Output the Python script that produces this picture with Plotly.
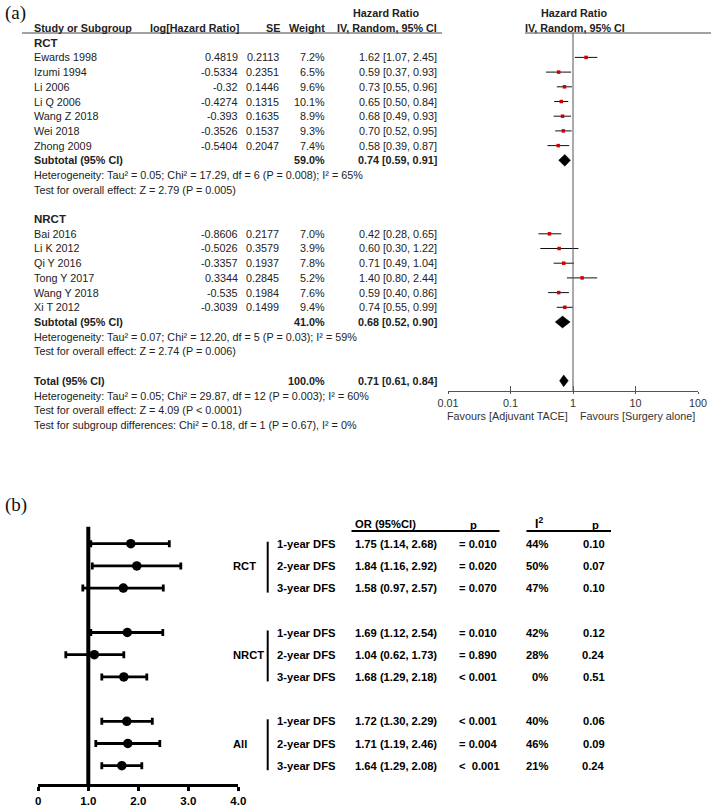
import plotly.graph_objects as go

W, H = 711, 807
FONT = "Liberation Sans, Arial, sans-serif"
SERIF = "Liberation Serif, Times New Roman, serif"
TXT = "#222222"

# ---------------- Panel (a) data ----------------
rct_names = ["Ewards 1998", "Izumi 1994", "Li 2006", "Li Q 2006", "Wang Z 2018", "Wei 2018", "Zhong 2009"]
rct_loghr = ["0.4819", "-0.5334", "-0.32", "-0.4274", "-0.393", "-0.3526", "-0.5404"]
rct_se = ["0.2113", "0.2351", "0.1446", "0.1315", "0.1635", "0.1537", "0.2047"]
rct_weight = ["7.2%", "6.5%", "9.6%", "10.1%", "8.9%", "9.3%", "7.4%"]
rct_hr = [1.62, 0.59, 0.73, 0.65, 0.68, 0.70, 0.58]
rct_lo = [1.07, 0.37, 0.55, 0.50, 0.49, 0.52, 0.39]
rct_hi = [2.45, 0.93, 0.96, 0.84, 0.93, 0.95, 0.87]
rct_sub = (0.74, 0.59, 0.91)
rct_sub_weight = "59.0%"
rct_het = "Heterogeneity: Tau² = 0.05; Chi² = 17.29, df = 6 (P = 0.008); I² = 65%"
rct_test = "Test for overall effect: Z = 2.79 (P = 0.005)"

nrct_names = ["Bai 2016", "Li K 2012", "Qi Y 2016", "Tong Y 2017", "Wang Y 2018", "Xi T 2012"]
nrct_loghr = ["-0.8606", "-0.5026", "-0.3357", "0.3344", "-0.535", "-0.3039"]
nrct_se = ["0.2177", "0.3579", "0.1937", "0.2845", "0.1984", "0.1499"]
nrct_weight = ["7.0%", "3.9%", "7.8%", "5.2%", "7.6%", "9.4%"]
nrct_hr = [0.42, 0.60, 0.71, 1.40, 0.59, 0.74]
nrct_lo = [0.28, 0.30, 0.49, 0.80, 0.40, 0.55]
nrct_hi = [0.65, 1.22, 1.04, 2.44, 0.86, 0.99]
nrct_sub = (0.68, 0.52, 0.90)
nrct_sub_weight = "41.0%"
nrct_het = "Heterogeneity: Tau² = 0.07; Chi² = 12.20, df = 5 (P = 0.03); I² = 59%"
nrct_test = "Test for overall effect: Z = 2.74 (P = 0.006)"

total = (0.71, 0.61, 0.84)
total_weight = "100.0%"
total_het = "Heterogeneity: Tau² = 0.05; Chi² = 29.87, df = 12 (P = 0.003); I² = 60%"
total_test = "Test for overall effect: Z = 4.09 (P < 0.0001)"
subgroup_test = "Test for subgroup differences: Chi² = 0.18, df = 1 (P = 0.67), I² = 0%"

a_ticks = [0.01, 0.1, 1, 10, 100]
a_ticklabels = ["0.01", "0.1", "1", "10", "100"]
favours_left = "Favours [Adjuvant TACE]"
favours_right = "Favours [Surgery alone]"

# ---------------- Panel (b) data ----------------
b_groups = ["RCT", "NRCT", "All"]
b_outcomes = ["1-year DFS", "2-year DFS", "3-year DFS"]
# plotted marks (as drawn in the figure)
b_est = [1.85, 1.97, 1.70, 1.78, 1.12, 1.71, 1.77, 1.79, 1.67]
b_lo = [1.05, 1.08, 0.89, 1.05, 0.55, 1.27, 1.27, 1.15, 1.27]
b_hi = [2.62, 2.85, 2.50, 2.49, 1.71, 2.17, 2.28, 2.43, 2.07]
# table texts
b_or = ["1.75 (1.14, 2.68)", "1.84 (1.16, 2.92)", "1.58 (0.97, 2.57)",
        "1.69 (1.12, 2.54)", "1.04 (0.62, 1.73)", "1.68 (1.29, 2.18)",
        "1.72 (1.30, 2.29)", "1.71 (1.19, 2.46)", "1.64 (1.29, 2.08)"]
b_p = ["= 0.010", "= 0.020", "= 0.070", "= 0.010", "= 0.890", "< 0.001",
       "< 0.001", "= 0.004", "<  0.001"]
b_i2 = ["44%", "50%", "47%", "42%", "28%", "0%", "40%", "46%", "21%"]
b_phet = ["0.10", "0.07", "0.10", "0.12", "0.24", "0.51", "0.06", "0.09", "0.24"]
b_ticks = [0, 1, 2, 3, 4]
b_ticklabels = ["0", "1.0", "2.0", "3.0", "4.0"]

# ---------------- geometry helpers ----------------
def PX(x):
    return x / W

def PY(y):
    return 1 - y / H

A_Y0, A_DY = 28.0, 14.7          # panel (a) row pixel model
A_AXIS_Y = 391.0
def ya(i):
    return A_Y0 + A_DY * i

B_Y0, B_DY = 543.7, 22.2         # panel (b) row pixel model
B_TOP, B_AXIS_Y = 526.7, 784.0
def yb(j):
    return B_Y0 + B_DY * j

rct_rows = list(range(2, 2 + len(rct_names)))
rct_sub_row = 9
nrct_rows = list(range(14, 14 + len(nrct_names)))
nrct_sub_row = 20
total_row = 24
b_rows = [0, 1, 2, 4, 5, 6, 8, 9, 10]

fig = go.Figure()
ann = []
shapes = []

def text(x, y, s, anchor="left", size=10.8, bold=False, color=TXT, family=FONT):
    ann.append(dict(x=PX(x), y=PY(y), xref="paper", yref="paper", text=("<b>%s</b>" % s) if bold else s,
                    showarrow=False, xanchor=anchor, yanchor="middle",
                    font=dict(family=family, size=size, color=color)))

# ---------------- Panel (a) table text ----------------
text(3, 13, "(a)", size=19, family=SERIF, color="#111")
text(386, ya(-1), "Hazard Ratio", anchor="center", bold=True)
text(574, ya(-1), "Hazard Ratio", anchor="center", bold=True)
text(32, ya(0), "Study or Subgroup", bold=True)
text(241, ya(0), "log[Hazard Ratio]", anchor="right", bold=True)
text(282, ya(0), "SE", anchor="right", bold=True)
text(327, ya(0), "Weight", anchor="right", bold=True)
text(387, ya(0), "IV, Random, 95% CI", anchor="center", bold=True)
text(575, ya(0), "IV, Random, 95% CI", anchor="center", bold=True)
shapes.append(dict(type="line", xref="paper", yref="paper", x0=PX(22), x1=PX(442), y0=PY(33), y1=PY(33),
                   line=dict(color="#444", width=1)))
shapes.append(dict(type="line", xref="paper", yref="paper", x0=PX(525), x1=PX(711), y0=PY(33), y1=PY(33),
                   line=dict(color="#444", width=1)))

def ci_text(e, l, h):
    return "%.2f [%.2f, %.2f]" % (e, l, h)

def block(title, title_row, names, loghr, se, wt, hr, lo, hi, rows, sub, sub_w, sub_row, het, test):
    text(32, ya(title_row), title, bold=True, size=11.5)
    for k, r in enumerate(rows):
        text(32, ya(r), names[k])
        text(239.5, ya(r), loghr[k], anchor="right")
        text(281, ya(r), se[k], anchor="right")
        text(327, ya(r), wt[k], anchor="right")
        text(439, ya(r), ci_text(hr[k], lo[k], hi[k]), anchor="right")
    text(32, ya(sub_row), "Subtotal (95% CI)", bold=True)
    text(327, ya(sub_row), sub_w, anchor="right", bold=True)
    text(439, ya(sub_row), ci_text(*sub), anchor="right", bold=True)
    text(32, ya(sub_row + 1), het)
    text(32, ya(sub_row + 2), test)

block("RCT", 1, rct_names, rct_loghr, rct_se, rct_weight, rct_hr, rct_lo, rct_hi, rct_rows,
      rct_sub, rct_sub_weight, rct_sub_row, rct_het, rct_test)
block("NRCT", 13, nrct_names, nrct_loghr, nrct_se, nrct_weight, nrct_hr, nrct_lo, nrct_hi, nrct_rows,
      nrct_sub, nrct_sub_weight, nrct_sub_row, nrct_het, nrct_test)
text(32, ya(total_row), "Total (95% CI)", bold=True)
text(327, ya(total_row), total_weight, anchor="right", bold=True)
text(439, ya(total_row), ci_text(*total), anchor="right", bold=True)
text(32, ya(total_row + 1), total_het)
text(32, ya(total_row + 2), total_test)
text(32, ya(total_row + 3), subgroup_test)
text(570, 416, favours_left, anchor="right", color="#333")
text(578, 416, favours_right, anchor="left", color="#333")

# ---------------- Panel (a) forest marks ----------------
all_hr = rct_hr + nrct_hr
all_lo = rct_lo + nrct_lo
all_hi = rct_hi + nrct_hi
all_rows = rct_rows + nrct_rows
seg_x, seg_y = [], []
for l, h, r in zip(all_lo, all_hi, all_rows):
    seg_x += [l, h, None]
    seg_y += [r, r, None]
fig.add_trace(go.Scatter(x=seg_x, y=seg_y, mode="lines", line=dict(color="#111", width=1),
                         xaxis="x", yaxis="y", hoverinfo="skip", showlegend=False))
fig.add_trace(go.Scatter(x=all_hr, y=all_rows, mode="markers",
                         marker=dict(symbol="square", size=3.5, color="#d10000", line=dict(width=0)),
                         xaxis="x", yaxis="y", showlegend=False))
for (e, l, h), r in [(rct_sub, rct_sub_row), (nrct_sub, nrct_sub_row), (total, total_row)]:
    d = 0.4
    fig.add_trace(go.Scatter(x=[l, e, h, e, l], y=[r, r - d, r, r + d, r], mode="lines", fill="toself",
                             fillcolor="black", line=dict(color="black", width=0.5),
                             xaxis="x", yaxis="y", hoverinfo="skip", showlegend=False))
# invisible trace for overlay tick axis
fig.add_trace(go.Scatter(x=[1], y=[0], mode="markers", marker=dict(opacity=0), xaxis="x3", yaxis="y",
                         hoverinfo="skip", showlegend=False))
shapes.append(dict(type="line", xref="x", yref="paper", x0=1, x1=1, y0=PY(A_AXIS_Y), y1=PY(33),
                   line=dict(color="#555", width=1)))

# ---------------- Panel (b) ----------------
text(3, 505, "(b)", size=19, family=SERIF, color="#111")
BF = 11.2
fig.add_trace(go.Scatter(
    x=b_est, y=b_rows, mode="markers",
    marker=dict(symbol="circle", size=9.5, color="black"),
    error_x=dict(type="data", symmetric=False,
                 array=[h - e for e, h in zip(b_est, b_hi)],
                 arrayminus=[e - l for e, l in zip(b_est, b_lo)],
                 color="black", thickness=2.8, width=3.5),
    xaxis="x2", yaxis="y2", showlegend=False))
shapes.append(dict(type="line", xref="x2", yref="paper", x0=1, x1=1, y0=PY(B_AXIS_Y), y1=PY(B_TOP),
                   line=dict(color="black", width=4)))

# header of table (b)
text(353, 524.3, "OR (95%CI)", bold=True, size=BF, color="black")
text(473.5, 525, "p", anchor="center", bold=True, size=BF, color="black")
text(533, 523, "I<sup>2</sup>", anchor="left", bold=True, size=BF + 1, color="black")
text(595, 525, "p", anchor="center", bold=True, size=BF, color="black")
shapes.append(dict(type="line", xref="paper", yref="paper", x0=PX(351.5), x1=PX(499.5), y0=PY(531), y1=PY(531),
                   line=dict(color="black", width=2)))
shapes.append(dict(type="line", xref="paper", yref="paper", x0=PX(526.5), x1=PX(611), y0=PY(531), y1=PY(531),
                   line=dict(color="black", width=2)))

for g, name in enumerate(b_groups):
    rows = b_rows[3 * g:3 * g + 3]
    text(231, yb(rows[1]), name, bold=True, size=BF, color="black")
    shapes.append(dict(type="line", xref="paper", yref="paper", x0=PX(267.7), x1=PX(267.7),
                       y0=PY(yb(rows[0]) - 2), y1=PY(yb(rows[2]) + 4.5),
                       line=dict(color="black", width=2)))
    for k, r in enumerate(rows):
        idx = 3 * g + k
        text(337.5, yb(r), b_outcomes[k], anchor="right", bold=True, size=BF, color="black")
        text(353.3, yb(r), b_or[idx], bold=True, size=BF, color="black")
        text(457.3, yb(r), b_p[idx], bold=True, size=BF, color="black")
        text(550, yb(r), b_i2[idx], anchor="right", bold=True, size=BF, color="black")
        text(607, yb(r), b_phet[idx], anchor="right", bold=True, size=BF, color="black")

# ---------------- layout ----------------
a_dom_y = [PY(A_AXIS_Y), PY(0)]
a_range_y = [(A_AXIS_Y - A_Y0) / A_DY, (0 - A_Y0) / A_DY]
b_dom_y = [PY(B_AXIS_Y), PY(B_TOP)]
b_range_y = [(B_AXIS_Y - B_Y0) / B_DY, (B_TOP - B_Y0) / B_DY]

fig.update_layout(
    width=W, height=H, margin=dict(l=0, r=0, t=0, b=0, pad=0, autoexpand=False),
    paper_bgcolor="white", plot_bgcolor="rgba(0,0,0,0)",
    showlegend=False, annotations=ann, shapes=shapes, hovermode=False,
    xaxis=dict(type="log", range=[-2, 2], domain=[PX(448), PX(698)], anchor="y", automargin=False,
               showline=True, linecolor="#555", linewidth=1, showgrid=False, zeroline=False,
               tickmode="array", tickvals=a_ticks, ticktext=a_ticklabels,
               ticks="outside", ticklen=2, tickcolor="#555", tickwidth=1,
               tickfont=dict(family=FONT, size=10.8, color="#333")),
    xaxis3=dict(type="log", range=[-2, 2], overlaying="x", anchor="y", automargin=False,
                showline=False, showgrid=False, zeroline=False, showticklabels=False,
                tickmode="array", tickvals=a_ticks, ticks="inside", ticklen=5, tickcolor="#555", tickwidth=1),
    yaxis=dict(domain=a_dom_y, range=a_range_y, visible=False, showgrid=False, zeroline=False, automargin=False),
    xaxis2=dict(range=[0, 4], domain=[PX(38.3), PX(238.3)], anchor="y2", automargin=False,
                showline=True, linecolor="black", linewidth=3, showgrid=False, zeroline=False,
                tickmode="array", tickvals=b_ticks, ticktext=["<b>%s</b>" % t for t in b_ticklabels],
                ticks="outside", ticklen=4, tickwidth=3, tickcolor="black",
                tickfont=dict(family=FONT, size=11.5, color="black")),
    yaxis2=dict(domain=b_dom_y, range=b_range_y, visible=False, showgrid=False, zeroline=False, automargin=False),
)

fig.write_html("out.html", config={"displayModeBar": False, "staticPlot": True},
               post_script="document.body.style.margin='0px';document.body.style.padding='0px';"
                           "document.documentElement.style.overflow='hidden';")
